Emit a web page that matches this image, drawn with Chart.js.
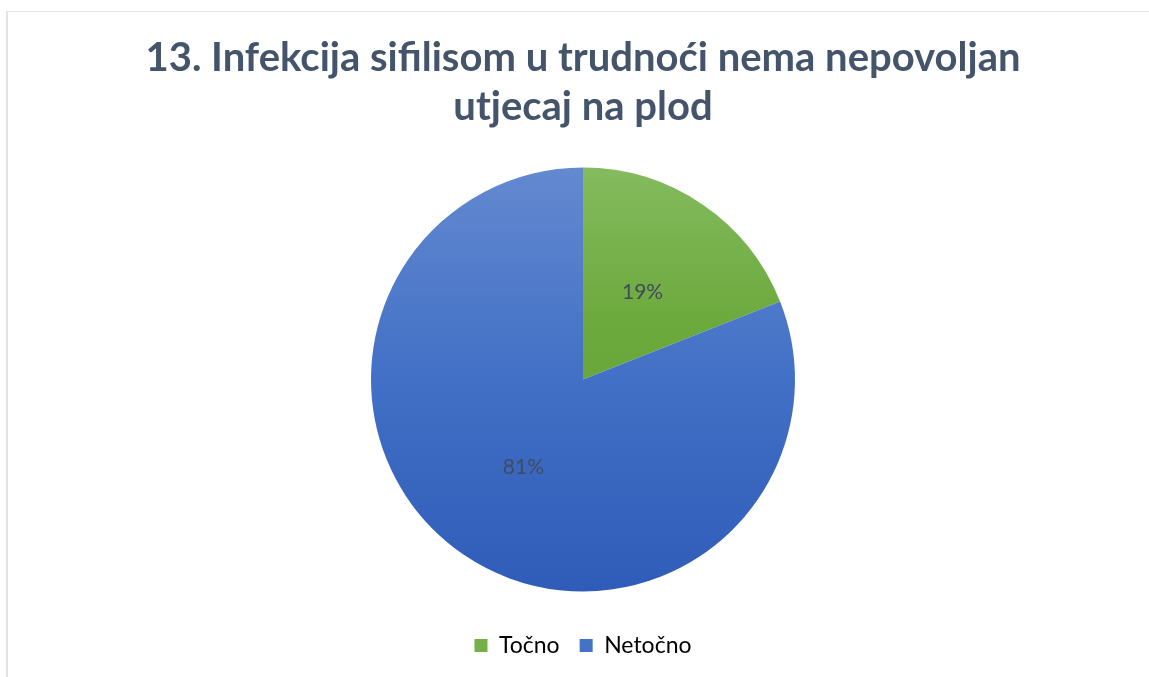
<!DOCTYPE html>
<html>
<head>
<meta charset="utf-8">
<script src="https://cdn.jsdelivr.net/npm/chart.js@4"></script>
<style>
html, body { margin: 0; padding: 0; background: #fff; }
#frame { position: absolute; left: 6px; top: 11px; width: 1200px; height: 700px;
  border-left: 2px solid #e0e4e9; border-top: 1px solid #e3e3e3; }
#wrap { position: absolute; left: 0; top: 0; width: 1149px; height: 677px; }
</style>
</head>
<body>
<div id="frame"></div>
<div id="wrap"><canvas id="pieChart" width="1149" height="677"></canvas></div>
<script>
const titleLines = ["13. Infekcija sifilisom u trudnoći nema nepovoljan", "utjecaj na plod"];
const categories = ["Točno", "Netočno"];
const percentValues = [19, 81];
const legendColors = ["#74b04a", "#4472c4"];

const ctx = document.getElementById("pieChart").getContext("2d");

// office style gradient fill, light at top and dark at bottom
function sliceFill(context){
  const chart = context.chart;
  const area = chart.chartArea;
  if(!area) return legendColors[context.dataIndex];
  const top = 168, bottom = 592;
  const g = chart.ctx.createLinearGradient(0, top, 0, bottom);
  if(context.dataIndex === 0){
    g.addColorStop(0, "#84bb5e");
    g.addColorStop(0.35, "#6daa3e");
    g.addColorStop(1, "#5f9e30");
  } else {
    g.addColorStop(0, "#6389d0");
    g.addColorStop(0.5, "#4270c6");
    g.addColorStop(1, "#2e5cb8");
  }
  return g;
}

/* PERCENT LABELS INSIDE SLICES */
const sliceLabels = {
  id: "sliceLabels",
  afterDatasetsDraw(chart){
    const c = chart.ctx;
    const meta = chart.getDatasetMeta(0);
    c.save();
    c.font = "21px Lato, 'Open Sans', sans-serif";
    c.fillStyle = "#404c5e";
    c.textAlign = "center";
    c.textBaseline = "middle";
    meta.data.forEach((arc, i) => {
      const p = arc.tooltipPosition();
      c.fillText(percentValues[i] + "%", p.x, p.y);
    });
    c.restore();
  }
};

new Chart(ctx, {
  type: "pie",
  data: {
    labels: categories,
    datasets: [{
      data: percentValues,
      backgroundColor: sliceFill,
      borderWidth: 0,
      radius: 212
    }]
  },
  options: {
    responsive: false,
    animation: false,
    layout: { padding: { left: 17, bottom: 10 } },
    plugins: {
      title: {
        display: true,
        text: titleLines,
        color: "#44546a",
        font: { family: "Lato, 'Open Sans', sans-serif", size: 40, weight: "bold", lineHeight: 1.225 },
        padding: { top: 34, bottom: 13 }
      },
      legend: {
        position: "bottom",
        labels: {
          color: "#4d5a6e",
          font: { family: "Lato, 'Open Sans', sans-serif", size: 23 },
          boxWidth: 13,
          boxHeight: 13,
          padding: 20,
          generateLabels(chart){
            return categories.map((name, i) => ({
              text: name,
              fillStyle: legendColors[i],
              strokeStyle: legendColors[i],
              lineWidth: 0,
              index: i
            }));
          }
        }
      },
      tooltip: { enabled: false }
    }
  },
  plugins: [sliceLabels]
});
</script>
</body>
</html>
